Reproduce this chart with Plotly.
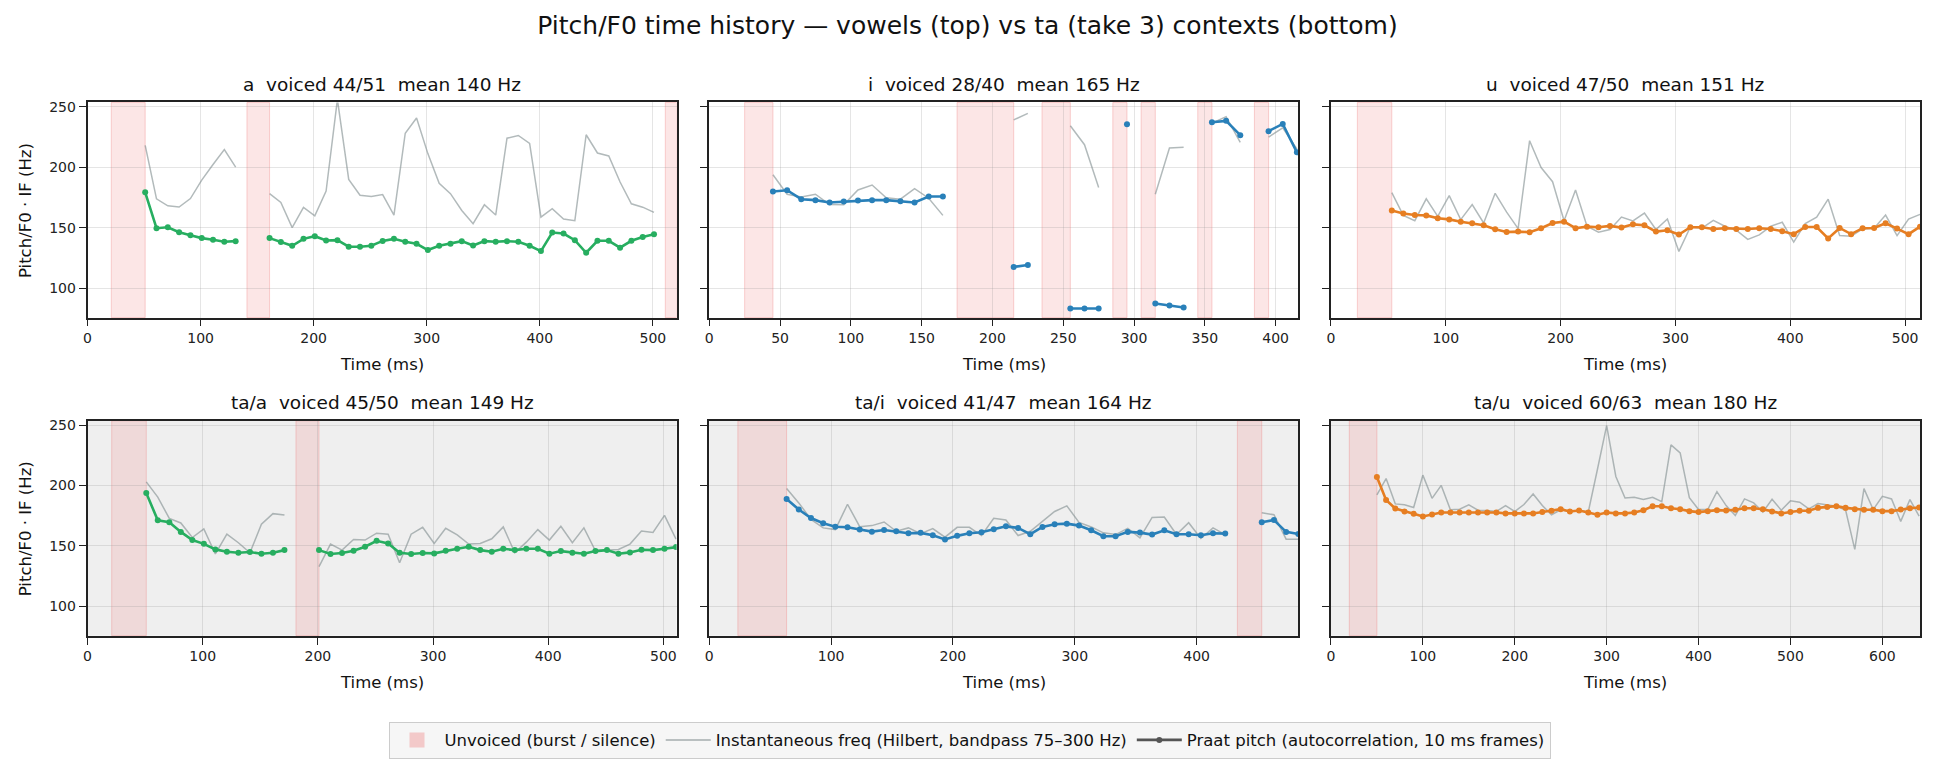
import plotly.graph_objects as go

# ------------------------------------------------------------------ data
GREEN, BLUE, ORANGE = "#27ae60", "#2980b9", "#e67e22"

FIG_TITLE = "Pitch/F0 time history — vowels (top) vs ta (take 3) contexts (bottom)"
PANEL_TITLES = [
    "a  voiced 44/51  mean 140 Hz",
    "i  voiced 28/40  mean 165 Hz",
    "u  voiced 47/50  mean 151 Hz",
    "ta/a  voiced 45/50  mean 149 Hz",
    "ta/i  voiced 41/47  mean 164 Hz",
    "ta/u  voiced 60/63  mean 180 Hz",
]

# frame centre times (ms), 10 ms frames
A_T = list(range(51, 502, 10))
A_F0 = [179.2, 149.5, 150.3, 146.2, 143.7, 141.3, 139.9, 138.3, 138.8, None, None,
        141.3, 138, 135, 140.7, 142.9, 139.3, 139.6, 134.2, 134.2, 135,
        139, 140.7, 138.3, 136.6, 131.4, 135, 136.6, 138.8, 135.2, 138.8,
        138.3, 138.8, 138.3, 135, 130.6, 145.9, 145.1, 139.6, 129.2, 139.1,
        139.1, 133.4, 139.1, 142.3, 144.5]
A_IF = [218, 173.8, 168, 167, 174, 189.3, 202.2, 214.5, 200, None, None,
        178.1, 170.8, 150, 166.7, 159.8, 180.3, 256, 189.9, 176.8, 175.7,
        177.3, 160.4, 228.1, 240.7, 211.2, 186.6, 178.1, 164.2, 153.3, 168.9,
        160.4, 224, 226.2, 219.7, 158.7, 165.6, 157.1, 155.7, 226.8, 211.7,
        209.3, 187.7, 169.7, 166.9, 162.6]
A_BANDS = [(21, 51), (141, 161), (511, 521)]

I_T = list(range(45, 416, 10))
I_F0 = [179.8, 180.9, 173.5, 172.7, 170.8, 171.6, 172.4, 172.7, 172.7, 171.9,
        170.8, 175.7, 175.7, None, None, None, None, 117.5, 119.1, None,
        None, 83.1, 83.1, 83.1, None, 235.5, None, 87.2, 85.5, 83.9,
        None, 237.2, 238.3, 226.5, None, 229.8, 235.8, 212.3]
I_IF = [193.7, 177.6, 175.4, 177.6, 169.1, 168.9, 181.1, 185.2, 174.6, 173.5,
        182.2, 174.3, 160.1, None, None, None, None, 239.1, 244.5, None,
        None, 234.2, 218.6, 183.1, None, 236, None, 177.6, 215.8, 216.4,
        None, 236.3, 241.8, 220.5, None, 224.9, 232.5, 215]
I_BANDS = [(25, 45), (175, 215), (235, 255), (285, 295), (305, 315), (345, 355), (385, 395)]

U_T = list(range(53, 514, 10))
U_F0 = [164.2, 161.7, 160.4, 160.1, 157.7, 156.8, 154.9, 153.6, 151.9, 148.6,
        146.4, 146.7, 146.2, 149.5, 153.8, 154.9, 149.5, 150.8, 150.3, 151.4,
        150, 152.7, 151.9, 146.7, 147.8, 144.3, 150.3, 150.3, 148.9, 149.5,
        148.9, 148.9, 149.5, 148.9, 147, 144.6, 150.5, 150.5, 141, 149.7,
        144.6, 149.5, 149.7, 153.6, 149.2, 144.6, 150.8]
U_IF = [179, 160.1, 155.7, 173.8, 159.3, 176.5, 156.6, 169.1, 153.8, 178.4,
        162.8, 149.2, 221.9, 199.7, 188, 155.7, 181.1, 151.1, 146.2, 148.4,
        158.7, 155.5, 162, 148.4, 157.1, 130.3, 150.5, 149.5, 156, 151.1,
        147.8, 140.2, 144, 151.1, 154.4, 138, 153.3, 158.7, 173.5, 143.4,
        142.9, 148.9, 149.5, 160.4, 143.4, 157.1, 160.9]
U_BANDS = [(23, 53)]

TA_T = list(range(51, 512, 10))
TA_F0 = [193.7, 171.1, 169.5, 161.5, 154.7, 151.6, 147, 145.1, 144.2, 144.8,
         143.4, 144.2, 146.4, None, None,
         146.4, 143.2, 144, 145.9, 149.2, 154.1, 151.9, 144.2, 143.2, 144,
         143.7, 145.9, 147.5, 149.2, 146.4, 145.1, 147.5, 146.4, 147.5, 147.5,
         143.4, 145.6, 144.2, 143.4, 145.6, 146.4, 143.4, 144.5, 146.7, 146.4,
         147.5, 148.9]
TA_IF = [202.9, 190.3, 172.7, 168.9, 156.8, 164, 143.2, 159.6, 152.5, 144.2,
         167.8, 176.6, 175.5, None, None,
         132.7, 151.4, 146.4, 155.2, 154.7, 160.4, 159.6, 136, 159.6, 165.3,
         151.9, 164.5, 159, 151.4, 151.9, 155.8, 165.6, 144.2, 153, 163.4,
         154.7, 166.2, 152.5, 164.8, 145.9, 146.4, 147, 151.4, 162.3, 161,
         175.2, 155.5]
TA_BANDS = [(21, 51), (181, 201)]

TI_T = [63.5 + 10 * k for k in range(43)]
TI_F0 = [188.8, 180, 173, 168.6, 165.8, 165.3, 163.4, 161.7, 163.1, 162,
         160.4, 160.7, 158.7, 155.2, 158.2, 160.4, 161.2, 163.7, 166.1, 164.8,
         159.6, 165.6, 167.8, 168.3, 166.7, 162.8, 157.9, 157.9, 161.5, 160.9,
         159.3, 162.8, 159.6, 159.6, 158.7, 160.4, 160.1, None, None,
         169.4, 171.3, 161.5, 159.8]
TI_IF = [197.5, 185.5, 171.9, 164.8, 163.4, 184.4, 165.8, 166.7, 169.7, 162,
         164.8, 160.1, 164.2, 157.1, 165.3, 165.3, 158.5, 172.7, 171.3, 158.5,
         162, 170.2, 178.4, 183.1, 169.4, 165.6, 160.7, 159.3, 164.5, 156.6,
         173.5, 173.8, 159.3, 169.1, 156, 164.8, 159.3, None, None,
         177.3, 175.7, 155.5, 155.5]
TI_BANDS = [(23.5, 63.5), (433.5, 453.5)]

TU_T = list(range(50, 641, 10))
TU_F0 = [207, 188, 180.9, 178.4, 176.5, 174.3, 176, 177.6, 177.6, 177.6,
         177.6, 177.6, 177.6, 177.6, 176.8, 176.8, 176.8, 176.8, 177.9, 179,
         180.3, 178.4, 179.2, 177.6, 175.7, 177.6, 176.8, 176.8, 177.6, 179.5,
         182.8, 182.8, 181.1, 180.3, 178.7, 177.9, 178.7, 179.5, 179.2, 179.8,
         181.1, 181.1, 180.3, 178.4, 176.8, 177.9, 179, 179, 181.4, 182.2,
         182.8, 181.4, 180.3, 179.8, 179.8, 178.7, 178.7, 180.1, 181.1, 181.7]
TU_IF = [192.1, 205.7, 184.7, 183.9, 181.7, 208.5, 189.3, 200, 179.8, 180.3,
         183.9, 179.5, 179.2, 178.4, 183.3, 178.4, 184.2, 192.9, 183.3, 175.7,
         179.8, 178.4, 179.5, 177.9, 213.4, 249.5, 207.4, 189.6, 190.2, 188.3,
         190.2, 186.6, 233.6, 227, 189.9, 180, 180, 194.8, 183.3, 175.1,
         188.8, 185.5, 177.9, 188.5, 179.5, 187.2, 186.1, 180.6, 185, 183.9,
         182.8, 179.5, 147, 197.3, 180, 191, 188.8, 170.2, 188.3, 174.6]
TU_BANDS = [(20, 50)]

X_MAX = [521, 416, 513, 511.5, 483.5, 641]
X_DTICK = [100, 50, 100, 100, 100, 100]
Y_RANGE = [75.5, 253.5]
Y_TICKS = [100, 150, 200, 250]

LEGEND_NAMES = ["Unvoiced (burst / silence)",
                "Instantaneous freq (Hilbert, bandpass 75–300 Hz)",
                "Praat pitch (autocorrelation, 10 ms frames)"]

PANELS = [
    (A_T, A_F0, A_IF, A_BANDS, GREEN),
    (I_T, I_F0, I_IF, I_BANDS, BLUE),
    (U_T, U_F0, U_IF, U_BANDS, ORANGE),
    (TA_T, TA_F0, TA_IF, TA_BANDS, GREEN),
    (TI_T, TI_F0, TI_IF, TI_BANDS, BLUE),
    (TU_T, TU_F0, TU_IF, TU_BANDS, ORANGE),
]

# ------------------------------------------------------------------ layout geometry
W, H = 1935, 771
COLS = [(83.7, 674.0), (706.7, 1297.0), (1329.7, 1920.0)]
ROWS = [(99.0, 315.3), (419.0, 635.0)]   # top / bottom pixel of plot area

FONT = "DejaVu Sans"
AXC = "#222222"
GRID = "rgba(150,150,150,0.25)"
IF_COLOR = "rgba(127,140,141,0.6)"
BAND_FILL = "rgba(240,128,128,0.2)"
BAND_LINE = "rgba(240,128,128,0.35)"

fig = go.Figure()
bg_shapes = []
band_shapes = []
annotations = []
layout = {}

for k, (t, f0, iff, bands, color) in enumerate(PANELS):
    n = k + 1
    r, c = divmod(k, 3)
    xd = [COLS[c][0] / W, COLS[c][1] / W]
    yd = [1 - ROWS[r][1] / H, 1 - ROWS[r][0] / H]
    xa = "x" if n == 1 else f"x{n}"
    ya = "y" if n == 1 else f"y{n}"
    layout[f"xaxis{'' if n == 1 else n}"] = dict(
        domain=xd, anchor=ya, range=[0, X_MAX[k]], dtick=X_DTICK[k], tick0=0,
        showline=True, linecolor=AXC, linewidth=1.6, mirror=True,
        ticks="outside", ticklen=7, tickwidth=1.3, tickcolor=AXC,
        ticklabelstandoff=0,
        showgrid=True, gridcolor=GRID, gridwidth=1, zeroline=False,
        tickfont=dict(family=FONT, size=14, color=AXC),
    )
    layout[f"yaxis{'' if n == 1 else n}"] = dict(
        domain=yd, anchor=xa, range=Y_RANGE, tickvals=Y_TICKS,
        showline=True, linecolor=AXC, linewidth=1.6, mirror=True,
        ticks="outside", ticklen=7, tickwidth=1.3, tickcolor=AXC,
        showgrid=True, gridcolor=GRID, gridwidth=1, zeroline=False,
        showticklabels=(c == 0),
        tickfont=dict(family=FONT, size=14, color=AXC),
    )
    if r == 1:
        bg_shapes.append(dict(type="rect", xref=f"{xa} domain", yref=f"{ya} domain",
                              x0=0, x1=1, y0=0, y1=1, fillcolor="#efefef",
                              line=dict(width=0), layer="below"))
    for (b0, b1) in bands:
        band_shapes.append(dict(type="rect", xref=xa, yref=f"{ya} domain",
                                x0=b0, x1=b1, y0=0, y1=1, fillcolor=BAND_FILL,
                                line=dict(width=1, color=BAND_LINE), layer="below"))
    fig.add_trace(go.Scatter(x=t, y=iff, mode="lines", xaxis=xa, yaxis=ya,
                             line=dict(color=IF_COLOR, width=1.5),
                             connectgaps=False, showlegend=False, hoverinfo="skip"))
    fig.add_trace(go.Scatter(x=t, y=f0, mode="lines+markers", xaxis=xa, yaxis=ya,
                             line=dict(color=color, width=2.6),
                             marker=dict(color=color, size=6),
                             connectgaps=False, showlegend=False))
    xc = (xd[0] + xd[1]) / 2
    annotations.append(dict(text=PANEL_TITLES[k], x=xc, xref="paper",
                            y=1 - (80.5 if r == 0 else 400.5) / H, yref="paper",
                            xanchor="center", yanchor="middle", showarrow=False,
                            font=dict(family=FONT, size=18.5, color="#111")))
    annotations.append(dict(text="Time (ms)", x=xc, xref="paper",
                            y=1 - (ROWS[r][1] + 47.5) / H, yref="paper",
                            xanchor="center", yanchor="middle", showarrow=False,
                            font=dict(family=FONT, size=16.5, color="#111")))
    if c == 0:
        annotations.append(dict(text="Pitch/F0 · IF (Hz)", x=21 / W, xref="paper",
                                y=(yd[0] + yd[1]) / 2, yref="paper", textangle=-90,
                                xanchor="center", yanchor="middle", showarrow=False,
                                font=dict(family=FONT, size=16.5, color="#111")))

# legend-only traces
fig.add_trace(go.Scatter(x=[None], y=[None], mode="markers",
                         marker=dict(symbol="square", size=15, color="rgba(240,128,128,0.38)"),
                         name=LEGEND_NAMES[0]))
fig.add_trace(go.Scatter(x=[None], y=[None], mode="lines",
                         line=dict(color="#a4adae", width=1.5), name=LEGEND_NAMES[1]))
fig.add_trace(go.Scatter(x=[None], y=[None], mode="lines+markers",
                         line=dict(color="#555555", width=2.6),
                         marker=dict(color="#555555", size=6), name=LEGEND_NAMES[2]))

fig.update_layout(
    width=W, height=H, margin=dict(l=0, r=0, t=0, b=0),
    paper_bgcolor="white", plot_bgcolor="white",
    font=dict(family=FONT, color="#111"),
    title=dict(text=FIG_TITLE, x=0.5, xanchor="center", y=1 - 25 / H, yanchor="middle",
               font=dict(family=FONT, size=25, color="#111")),
    showlegend=True,
    legend=dict(orientation="h", x=0.5, xanchor="center", y=1 - 740 / H, yanchor="middle",
                bgcolor="#f6f6f6", bordercolor="#cccccc", borderwidth=1,
                itemwidth=45,
                font=dict(family=FONT, size=16.5, color="#111")),
    shapes=bg_shapes + band_shapes, annotations=annotations,
    **layout,
)

fig.write_html("out.html")
